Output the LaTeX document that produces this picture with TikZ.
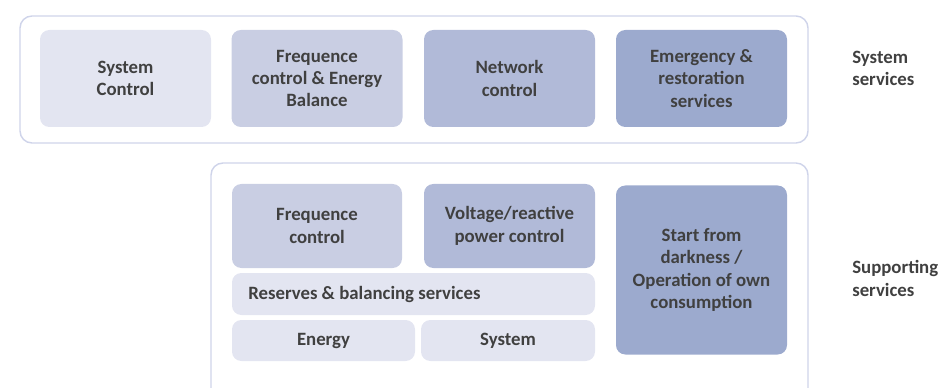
\documentclass[tikz,border=0pt]{standalone}
\usepackage{fontspec}
\setmainfont{Carlito}
\definecolor{tileA}{HTML}{E3E5F1}
\definecolor{tileB}{HTML}{C9CEE3}
\definecolor{tileC}{HTML}{B1BAD8}
\definecolor{tileD}{HTML}{9CAACE}
\definecolor{framecol}{HTML}{CFD4EA}
\definecolor{txtgray}{HTML}{404040}
\newcommand{\pxl}{0.75pt}
\tikzset{
  tile/.style={fill=#1, rounded corners=7pt, inner sep=0pt, align=center,
    text=txtgray, font=\bfseries\fontsize{14.1}{16.8}\selectfont},
  frame/.style={draw=framecol, line width=1.1pt, rounded corners=9pt},
  sidelabel/.style={anchor=west, align=left, inner sep=0pt, text=txtgray,
    font=\bfseries\fontsize{14.1}{16.8}\selectfont}
}
\begin{document}
\begin{tikzpicture}[x=0.75pt,y=-0.75pt]
\useasboundingbox (0,0) rectangle (944,388);
% outer frames
\draw[frame] (20,16) rectangle (808,143);
\draw[frame] (211,163) rectangle (808,420);

% system services row
\foreach \x/\c/\n/\t in {125.5/tileA/sysctrl/{System\\Control},
                         317/tileB/freqbal/{Frequence\\control \& Energy\\Balance},
                         509.5/tileC/netctrl/{Network\\control},
                         701.5/tileD/emerg/{Emergency \&\\restoration\\services}}
    \node[tile=\c, minimum width=171*\pxl, minimum height=97*\pxl] (\n) at (\x,78.5) {\t};
\node[sidelabel] (syslabel) at (852,68.5) {System\\services};

% supporting services
\node[tile=tileB, minimum width=170*\pxl, minimum height=84*\pxl] (freqctrl) at (317,226) {Frequence\\control};
\node[tile=tileC, minimum width=171*\pxl, minimum height=84*\pxl] (voltctrl) at (509.5,226) {Voltage/reactive\\power control};
\node[tile=tileA, minimum width=363*\pxl, minimum height=42*\pxl] (reserves) at (413.5,294) {};
\node[tile=tileA, anchor=west, fill=none] (reslabel) at (248,294) {Reserves \& balancing services};
\node[tile=tileA, minimum width=183*\pxl, minimum height=41*\pxl] (energy) at (323.5,340.5) {Energy};
\node[tile=tileA, minimum width=174*\pxl, minimum height=41*\pxl] (system) at (508,340.5) {System};
\node[tile=tileD, minimum width=171*\pxl, minimum height=169*\pxl] (blackstart) at (701.5,270) {Start from\\darkness /\\Operation of own\\consumption};
\node[sidelabel] (suplabel) at (852,278.5) {Supporting\\services};
\end{tikzpicture}
\end{document}
